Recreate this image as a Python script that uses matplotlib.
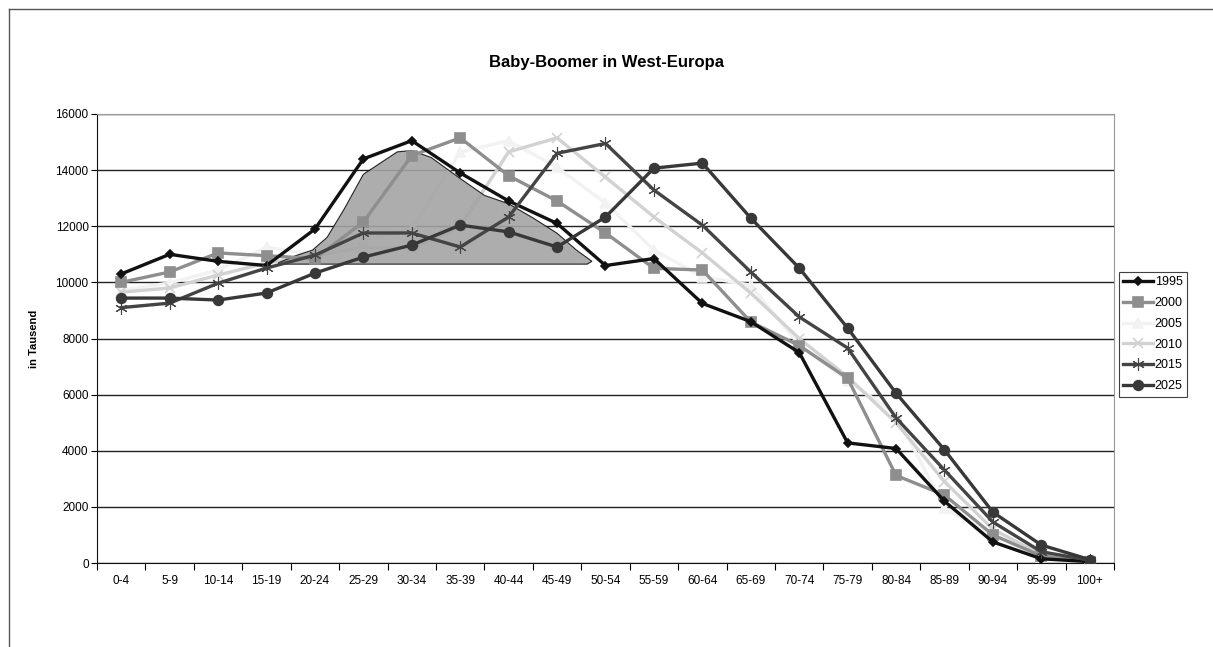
"""
Baby-Boomer in West-Europa
Population by age group (in thousands), several years.
"""
import matplotlib
matplotlib.use('Agg')
import matplotlib.pyplot as plt
from matplotlib.lines import Line2D
import numpy as np

plt.rcParams['font.family'] = ['Liberation Sans', 'DejaVu Sans']

age_groups = ['0-4', '5-9', '10-14', '15-19', '20-24', '25-29', '30-34', '35-39',
              '40-44', '45-49', '50-54', '55-59', '60-64', '65-69', '70-74',
              '75-79', '80-84', '85-89', '90-94', '95-99', '100+']

pop_1995 = [10300, 11000, 10750, 10600, 11900, 14400, 15050, 13900, 12900, 12100, 10600,
            10850, 9250, 8600, 7500, 4280, 4080, 2200, 750, 150, 50]
pop_2000 = [10000, 10370, 11050, 10950, 10850, 12150, 14520, 15150, 13800, 12900, 11760,
            10500, 10440, 8590, 7750, 6580, 3120, 2420, 1000, 250, 50]
pop_2005 = [9720, 9980, 10440, 11250, 11000, 11500, 11900, 14650, 15050, 14100, 12830,
            11150, 10200, 9900, 7770, 6500, 5300, 1950, 1000, 200, 50]
pop_2010 = [9650, 9800, 10260, 10690, 10950, 11250, 11200, 12000, 14650, 15150, 13750,
            12330, 11050, 9620, 8000, 6630, 5000, 2900, 1200, 300, 60]
pop_2015 = [9100, 9260, 9970, 10510, 10970, 11760, 11760, 11260, 12330, 14600, 14950,
            13290, 12040, 10370, 8770, 7660, 5170, 3310, 1460, 400, 100]
pop_2025 = [9440, 9440, 9370, 9620, 10330, 10900, 11330, 12040, 11800, 11260, 12330,
            14070, 14250, 12290, 10510, 8370, 6050, 4030, 1810, 640, 120]

# hand-drawn shaded region (age group index, value)
shade_x = [3.25, 3.6, 3.95, 4.25, 4.6, 5.0, 5.35, 5.7, 6.0, 6.4, 7.0, 7.5, 8.0, 8.5,
           9.0, 9.4, 9.6, 9.72, 9.62, 3.25]
shade_y = [10700, 10950, 11150, 11600, 12600, 13850, 14250, 14650, 14700, 14450, 13700,
           13100, 12800, 12300, 11750, 11150, 10900, 10750, 10650, 10650]

years = ['1995', '2000', '2005', '2010', '2015', '2025']
series = [pop_1995, pop_2000, pop_2005, pop_2010, pop_2015, pop_2025]
colors = ['#111111', '#8e8e8e', '#f2f2f2', '#d2d2d2', '#444444', '#383838']
markers = ['D', 's', '^', 'x', (6, 2, 0), 'o']
msizes = [4.5, 6.5, 6.5, 7, 9, 7]
medges = [1.2, 1.2, 1.2, 1.2, 0.8, 1.2]
zorders = [6, 5, 2, 2.5, 6, 7]

fig = plt.figure(figsize=(12.13, 6.47), dpi=100)
ax = fig.add_axes([97 / 1213, 1 - 563 / 647, (1114 - 97) / 1213, (563 - 114) / 647])

x = np.arange(len(age_groups))

ax.fill(shade_x, shade_y, facecolor='#a4a4a4', edgecolor='#111111', linewidth=0.8,
        alpha=0.9, zorder=3)

handles = []
for yr, vals, c, m, ms, me, z in zip(years, series, colors, markers, msizes, medges, zorders):
    ln, = ax.plot(x, vals, color=c, marker=m, markersize=ms, linewidth=2.4,
                  markeredgecolor=c, markeredgewidth=me, label=yr, zorder=z)
    handles.append(ln)

ax.set_xlim(-0.5, len(age_groups) - 0.5)
ax.set_ylim(0, 16000)
ax.set_yticks(np.arange(0, 16001, 2000))
ax.tick_params(axis='y', labelsize=8.5, length=4, direction='out', pad=2)
ax.yaxis.grid(True, color='#222222', linewidth=1)
ax.set_axisbelow(True)

ax.set_xticks(np.arange(-0.5, len(age_groups), 1))
ax.set_xticklabels([])
ax.set_xticks(x, minor=True)
ax.set_xticklabels(age_groups, minor=True)
ax.tick_params(axis='x', which='major', length=5, direction='out')
ax.tick_params(axis='x', which='minor', length=0, labelsize=8.5, pad=9)

for s in ['left', 'bottom']:
    ax.spines[s].set_color('#111111')
for s in ['top', 'right']:
    ax.spines[s].set_color('#999999')

ax.set_ylabel('in Tausend', fontsize=8, fontweight='bold', labelpad=12)
fig.text(0.5, 1 - 62 / 647, 'Baby-Boomer in West-Europa', ha='center', va='center',
         fontsize=12, fontweight='bold')

leg = fig.legend(handles=handles, loc='upper left', bbox_to_anchor=(1119 / 1213, 1 - 272 / 647),
                 fontsize=9, frameon=True, fancybox=False, handlelength=2.4,
                 handletextpad=0.1, labelspacing=0.7, borderpad=0.35, borderaxespad=0)
leg.get_frame().set_edgecolor('#111111')
leg.get_frame().set_linewidth(0.8)

# outer frame
fig.add_artist(Line2D([9 / 1213, 1], [1 - 9 / 647, 1 - 9 / 647], color='#555555', linewidth=1))
fig.add_artist(Line2D([9 / 1213, 9 / 1213], [0, 1 - 9 / 647], color='#555555', linewidth=1))

plt.savefig('out.png', dpi=100)
plt.close()
